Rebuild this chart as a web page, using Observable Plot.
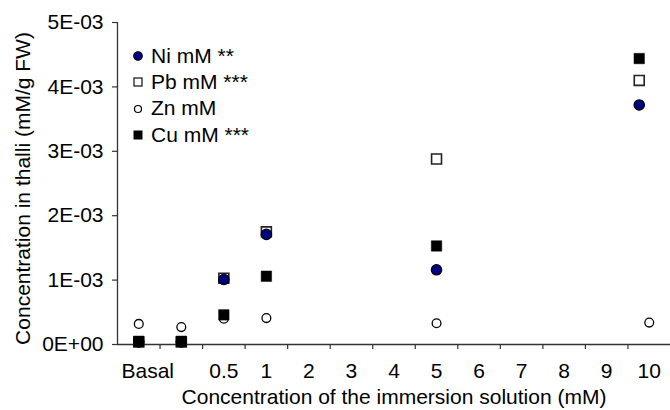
<!DOCTYPE html>
<html>
<head>
<meta charset="utf-8">
<script src="https://cdn.jsdelivr.net/npm/d3@7"></script>
<script src="https://cdn.jsdelivr.net/npm/@observablehq/plot@0.6"></script>
<style>
  html, body { margin: 0; padding: 0; background: #fff; }
  #wrap { position: relative; width: 670px; height: 410px; font-family: "Liberation Sans", Arial, sans-serif; }
  #legend { position: absolute; left: 131px; top: 43px; font-size: 21px; color: #000; line-height: 26.2px; }
  #legend .row { display: flex; align-items: center; white-space: nowrap; }
  #legend svg { width: 14px; height: 14px; margin-right: 6px; }
</style>
</head>
<body>
<div id="wrap"><div id="legend"></div></div>
<script>
const categories = ["Basal", "", "0.5", "1", "2", "3", "4", "5", "6", "7", "8", "9", "10"];
const measured = ["Basal", "", "0.5", "1", "5", "10"];
const ni = [0.00004, 0.00004, 0.00101, 0.00171, 0.00116, 0.00372];
const pb = [0.00004, 0.00004, 0.00103, 0.00175, 0.00288, 0.00410];
const zn = [0.00032, 0.00027, 0.00040, 0.00041, 0.00033, 0.00034];
const cu = [0.00005, 0.00005, 0.00046, 0.00106, 0.00153, 0.00444];
const yTicks = [0, 0.001, 0.002, 0.003, 0.004, 0.005];
const yTickLabels = ["0E+00", "1E-03", "2E-03", "3E-03", "4E-03", "5E-03"];
const seriesNames = ["Ni mM **", "Pb mM ***", "Zn mM", "Cu mM ***"];
const xTitle = "Concentration of the immersion solution (mM)";
const yTitle = "Concentration in thalli (mM/g FW)";

const font = "'Liberation Sans', Arial, sans-serif";
const fs = 21;
const rows = (vals, name) => measured.map((c, i) => ({cat: c, xi: categories.indexOf(c), v: vals[i], series: name}));
const data = {
  Ni: rows(ni, "Ni"), Pb: rows(pb, "Pb"), Zn: rows(zn, "Zn"), Cu: rows(cu, "Cu")
};
const styles = {
  Pb: {symbol: "square", r: 5.6, fill: "white", stroke: "#222", strokeWidth: 1.6},
  Ni: {symbol: "circle", r: 5.2, fill: "#000080", stroke: "#000", strokeWidth: 1.2},
  Zn: {symbol: "circle", r: 4.4, fill: "white", stroke: "#000", strokeWidth: 1.3},
  Cu: {symbol: "square", r: 5.9, fill: "#000", stroke: "#000", strokeWidth: 0.5}
};
function seriesMarks(name, shiftLast) {
  const s = styles[name];
  const d = data[name];
  if (!shiftLast) return [Plot.dot(d, {x: "xi", y: "v", ...s})];
  return [
    Plot.dot(d.filter(r => r.cat !== "10"), {x: "xi", y: "v", ...s}),
    Plot.dot(d.filter(r => r.cat === "10"), {x: "xi", y: "v", dx: -10, ...s})
  ];
}
const boundaries = categories.slice(1).map((c, i) => i + 0.5);

const chart = Plot.plot({
  width: 670,
  height: 410,
  marginLeft: 117,
  marginRight: 0,
  marginTop: 22,
  marginBottom: 66,
  style: {fontFamily: font, fontSize: fs + "px", color: "#000", background: "white", overflow: "visible"},
  x: {type: "linear", domain: [-0.5, 12.5], axis: null},
  y: {domain: [0, 0.005], axis: null},
  marks: [
    Plot.axisY({ticks: yTicks, tickFormat: (d) => yTickLabels[yTicks.indexOf(d)], tickSize: 5, tickPadding: 9, stroke: "#333", strokeWidth: 1.2, label: null, fontSize: fs}),
    Plot.axisX({ticks: boundaries, tickFormat: () => "", tickSize: 5, stroke: "#333", strokeWidth: 1.2, label: null}),
    Plot.text(categories.slice(1).map((c, i) => ({c, xi: i + 1})), {x: "xi", text: "c", frameAnchor: "bottom", lineAnchor: "middle", dy: 27, fontSize: fs}),
    Plot.text([{c: categories[0], xi: 0}], {x: "xi", text: "c", frameAnchor: "bottom", lineAnchor: "middle", dy: 27, dx: 9, fontSize: fs}),
    Plot.ruleX([-0.5], {stroke: "#333", strokeWidth: 1.3}),
    Plot.ruleY([0], {stroke: "#333", strokeWidth: 1.3}),
    Plot.text([xTitle], {frameAnchor: "bottom", textAnchor: "middle", lineAnchor: "middle", dy: 53, fontSize: fs}),
    Plot.text([yTitle], {frameAnchor: "left", textAnchor: "middle", lineAnchor: "middle", rotate: -90, dx: -94, dy: 5, fontSize: fs}),
    ...seriesMarks("Pb", true),
    ...seriesMarks("Ni", true),
    ...seriesMarks("Zn", false),
    ...seriesMarks("Cu", true)
  ]
});
document.getElementById("wrap").prepend(chart);

// legend
const legend = document.getElementById("legend");
const legendSym = {
  Ni: `<circle cx="7" cy="7" r="4.3" fill="#000080" stroke="#000" stroke-width="1.1"/>`,
  Pb: `<rect x="3" y="3" width="8" height="8" fill="white" stroke="#222" stroke-width="1.3"/>`,
  Zn: `<circle cx="7" cy="7" r="3.5" fill="white" stroke="#000" stroke-width="1.2"/>`,
  Cu: `<rect x="2.5" y="2.5" width="9" height="9" fill="#000"/>`
};
["Ni", "Pb", "Zn", "Cu"].forEach((k, i) => {
  const row = document.createElement("div");
  row.className = "row";
  row.innerHTML = `<svg viewBox="0 0 14 14">${legendSym[k]}</svg><span>${seriesNames[i]}</span>`;
  legend.appendChild(row);
});
</script>
</body>
</html>
